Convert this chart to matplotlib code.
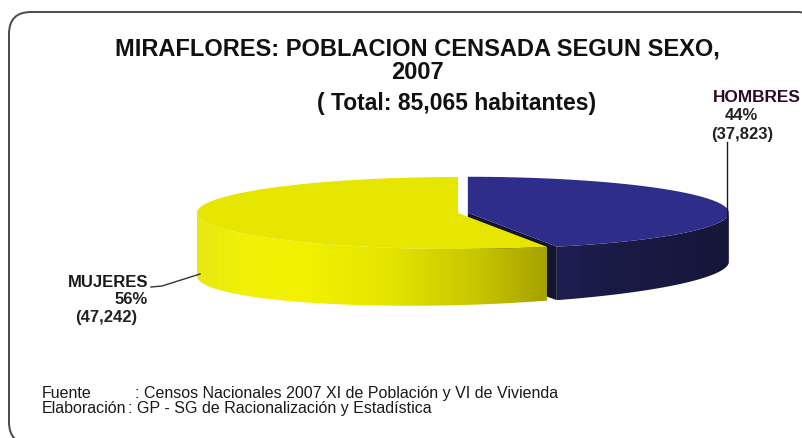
"""Miraflores census population by sex, 2007 - 3D pie with framed title and source note."""

import matplotlib
matplotlib.use("Agg")
import matplotlib.pyplot as plt
import numpy as np
from matplotlib.patches import FancyBboxPatch, Polygon

plt.rcParams["font.family"] = ["Liberation Sans", "DejaVu Sans"]

TITLE = "MIRAFLORES: POBLACION CENSADA SEGUN SEXO,\n2007"
SUBTITLE = "( Total: 85,065 habitantes)"
LABELS = ["HOMBRES", "MUJERES"]
VALUES = [37823, 47242]
PCTS = [44, 56]
FOOT_KEYS = ["Fuente", "Elaboración"]
FOOT_TEXT = [": Censos Nacionales 2007 XI de Población y VI de Vivienda",
             ": GP - SG de Racionalización y Estadística"]

# pie geometry in pixel units (y grows downwards)
CX, CY = 458, 214
RX, RY = 261, 36
DEPTH_L, DEPTH_R = 63, 49      # wall height at the far left / far right (perspective)
EXPLODE = 10

TOP_COL = {"HOMBRES": (46, 46, 138), "MUJERES": (230, 230, 0)}
# wall gradients, left -> right
WALL_STOPS = {
    "HOMBRES": ([0, 0.3, 1], [(30, 30, 82), (26, 26, 70), (22, 22, 58)]),
    "MUJERES": ([0, 0.12, 0.3, 0.55, 0.8, 1],
                [(232, 232, 20), (240, 240, 8), (242, 242, 0), (228, 228, 0),
                 (200, 198, 0), (166, 162, 0)]),
}


def rgb(c):
    return tuple(v / 255 for v in c)


def pt(t, cx, cy):
    return cx + RX * np.cos(t), cy - RY * np.sin(t)


def depth(x):
    f = (np.asarray(x) - (CX - RX)) / (2 * RX + EXPLODE)
    return DEPTH_L + f * (DEPTH_R - DEPTH_L)


fig = plt.figure(figsize=(8.03, 4.39), dpi=100)
ax = fig.add_axes([0, 0, 1, 1])
ax.set_xlim(0, 803)
ax.set_ylim(439, 0)
ax.axis("off")

# rounded frame
ax.add_patch(FancyBboxPatch((9, 13), 810, 432, boxstyle="round,pad=0,rounding_size=22",
                            fc="white", ec="#4a4a4a", lw=1.4, zorder=0))

total = sum(VALUES)
span = {lab: 2 * np.pi * v / total for lab, v in zip(LABELS, VALUES)}
# hombres runs clockwise from 12 o'clock, mujeres takes the rest
t_split = np.pi / 2 - span["HOMBRES"]
slices = {"HOMBRES": (t_split, np.pi / 2), "MUJERES": (np.pi / 2, t_split + 2 * np.pi)}

tb = np.pi / 2 - span["HOMBRES"] / 2
offsets = {"HOMBRES": (EXPLODE * np.cos(tb), -EXPLODE * np.sin(tb) * RY / RX),
           "MUJERES": (0.0, 0.0)}

z = 2
for lab in ["HOMBRES", "MUJERES"]:
    a, b = slices[lab]
    cx, cy = CX + offsets[lab][0], CY + offsets[lab][1]

    # cut face at the front split, seen only on the exploded slice
    if lab == "HOMBRES":
        fx, fy = pt(a, cx, cy)
        ax.add_patch(Polygon([(cx, cy), (fx, fy), (fx, fy + depth(fx)), (cx, cy + depth(cx))],
                             closed=True, fc=rgb((20, 20, 48)), ec="none", zorder=z))

    # outer wall: only the front half of the ellipse is visible
    lo, hi = a % (2 * np.pi), b % (2 * np.pi)
    if hi <= lo:
        hi += 2 * np.pi
    w0, w1 = max(lo, np.pi), min(hi, 2 * np.pi)
    if w1 > w0:
        ts = np.linspace(w0, w1, 200)
        xs, ys = pt(ts, cx, cy)
        yb = ys + depth(xs)
        wall = list(zip(xs, ys)) + list(zip(xs[::-1], yb[::-1]))
        clip = Polygon(wall, closed=True, fc="none", ec="none")
        ax.add_patch(clip)
        stops, cols = WALL_STOPS[lab]
        cols = np.array(cols) / 255
        u = np.linspace(0, 1, 400)
        grad = np.stack([np.interp(u, stops, cols[:, k]) for k in range(3)], axis=-1)
        im = ax.imshow(grad[None, :, :], extent=(xs.min(), xs.max(), yb.max(), ys.min()),
                       aspect="auto", interpolation="bilinear", zorder=z + 1)
        im.set_clip_path(clip)

    # top face
    ts = np.linspace(a, b, 300)
    xs, ys = pt(ts, cx, cy)
    verts = [(cx, cy)] + list(zip(xs, ys))
    ax.add_patch(Polygon(verts, closed=True, fc=rgb(TOP_COL[lab]), ec="none", zorder=z + 2))
    z += 3

ax.set_xlim(0, 803)
ax.set_ylim(439, 0)

# labels with leader lines
hx = CX + offsets["HOMBRES"][0] + RX - 2
ax.plot([hx, hx], [143, CY + 4], color="#1a1a1a", lw=1.0, zorder=10)
ax.text(713, 98, LABELS[0], ha="left", va="center", fontsize=12.4,
        fontweight="bold", color="#2a0a25", zorder=11)
ax.text(741, 116, f"{PCTS[0]}%", ha="center", va="center", fontsize=12,
        fontweight="bold", color="#222222")
ax.text(742, 135, f"({VALUES[0]:,})", ha="center", va="center", fontsize=12,
        fontweight="bold", color="#222222")

ax.plot([151, 162, CX - RX + 3], [288, 287, 275], color="#333333", lw=1.0, zorder=10)
ax.text(148, 283, LABELS[1], ha="right", va="center", fontsize=12,
        fontweight="bold", color="#1a1a1a")
ax.text(148, 300, f"{PCTS[1]}%", ha="right", va="center", fontsize=12,
        fontweight="bold", color="#222222")
ax.text(106, 318, f"({VALUES[1]:,})", ha="center", va="center", fontsize=12,
        fontweight="bold", color="#222222")

# titles
ax.text(417, 61, TITLE, ha="center", va="center", fontsize=17, fontweight="bold",
        color="#111111", linespacing=1.02)
ax.text(457, 104, SUBTITLE, ha="center", va="center", fontsize=16.5,
        fontweight="bold", color="#111111")

# source note
for i, (key, txt) in enumerate(zip(FOOT_KEYS, FOOT_TEXT)):
    y = 394 + 15 * i
    ax.text(42, y, key, ha="left", va="center", fontsize=11.5, color="#1a1a1a")
    ax.text(135 if i == 0 else 128, y, txt, ha="left", va="center", fontsize=11.5,
            color="#1a1a1a")

fig.savefig("out.png", dpi=100)
